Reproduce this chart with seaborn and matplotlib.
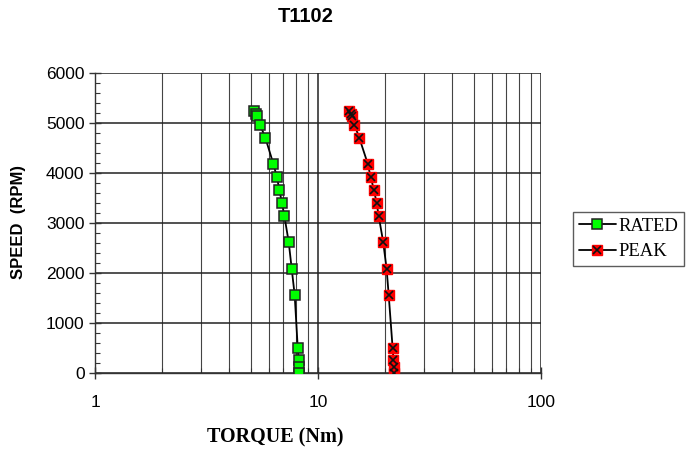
import seaborn as sns
import matplotlib.pyplot as plt
import matplotlib.ticker as mticker
from matplotlib.lines import Line2D
import numpy as np
import pandas as pd

# values
speed = [5240, 5190, 5140, 4970, 4710, 4190, 3930, 3670, 3410, 3150,
         2620, 2090, 1560, 510, 260, 130, 0]
rated_torque = [5.18, 5.27, 5.33, 5.49, 5.80, 6.30, 6.53, 6.71, 6.88, 7.06,
                7.39, 7.62, 7.86, 8.11, 8.19, 8.22, 8.23]
peak_torque = [13.8, 14.0, 14.25, 14.55, 15.3, 16.7, 17.2, 17.8, 18.3, 18.7,
               19.6, 20.3, 20.75, 21.6, 21.8, 21.85, 21.9]

df = pd.DataFrame({"speed": speed, "rated": rated_torque, "peak": peak_torque})

sns.set_style("white")
plt.rcParams['font.family'] = ['Liberation Sans', 'DejaVu Sans']
plt.rcParams.update({"text.color": "black", "axes.labelcolor": "black",
                     "xtick.color": "black", "ytick.color": "black"})

fig = plt.figure(figsize=(6.92, 4.51), dpi=100)
ax = fig.add_axes([95 / 692, 1 - 373 / 451, 446 / 692, 300 / 451])

ms = 6.5
sns.lineplot(data=df, x="rated", y="speed", sort=False, estimator=None, ax=ax,
             color="black", lw=1.3, marker="s", markersize=ms,
             markerfacecolor="#00ff00", markeredgecolor="#222222", markeredgewidth=1.1,
             zorder=3)
sns.lineplot(data=df, x="peak", y="speed", sort=False, estimator=None, ax=ax,
             color="black", lw=1.3, marker="s", markersize=ms,
             markerfacecolor="#ff0000", markeredgecolor="#ff0000", markeredgewidth=1,
             zorder=3)
ax.plot(df["peak"], df["speed"], ls="none", marker="x", markersize=6,
        mec="#111111", mew=1.2, zorder=4)

ax.set_xscale("log")
ax.set_xlim(1, 100)
ax.set_ylim(0, 6000)
ax.set_yticks(np.arange(0, 6001, 1000))
ax.yaxis.set_minor_locator(mticker.MultipleLocator(200))
ax.xaxis.set_major_formatter(mticker.FuncFormatter(lambda v, p: f"{v:g}"))
ax.xaxis.set_minor_formatter(mticker.NullFormatter())

ax.grid(True, which="major", axis="both", color="#222222", lw=1.1)
ax.grid(True, which="minor", axis="x", color="#444444", lw=0.8)
for s in ["top", "right"]:
    ax.spines[s].set_visible(False)
for s in ["left", "bottom"]:
    ax.spines[s].set_color("#333333")
    ax.spines[s].set_linewidth(1.0)

ax.tick_params(axis="both", which="major", direction="inout", length=9, width=1,
               color="#333333", labelsize=12.5, labelcolor="black", left=True, bottom=True)
ax.tick_params(axis="both", which="minor", direction="in", length=3.5, width=0.8,
               color="#333333", left=True, bottom=True)
ax.tick_params(axis="x", which="major", pad=11)
ax.tick_params(axis="y", which="major", pad=3)

ax.set_xlabel("TORQUE (Nm)", fontsize=14.5, fontweight="bold",
              family=["Liberation Serif"], color="black")
ax.xaxis.set_label_coords((275 - 95) / 446, (373 - 437) / 300)
ax.xaxis.label.set_va("center")
ax.set_ylabel("SPEED  (RPM)", fontsize=12, fontweight="bold", color="black")
ax.yaxis.set_label_coords((19 - 95) / 446, (373 - 222) / 300)
ax.yaxis.label.set_va("center")
fig.text(306 / 692, 1 - 16 / 451, "T1102", ha="center", va="center",
         fontsize=14.5, fontweight="bold", color="black")

h_rated = Line2D([], [], color="black", lw=1.3, marker="s", markersize=ms,
                 markerfacecolor="#00ff00", markeredgecolor="#222222", markeredgewidth=1.1)
h_peak_sq = Line2D([], [], color="black", lw=1.3, marker="s", markersize=ms,
                   markerfacecolor="#ff0000", markeredgecolor="#ff0000")
h_peak_x = Line2D([], [], ls="none", marker="x", markersize=6, mec="#111111", mew=1.2)
leg = fig.legend([h_rated, (h_peak_sq, h_peak_x)], ["RATED", "PEAK"],
                 loc="upper left", bbox_to_anchor=(573 / 692, 1 - 212 / 451),
                 frameon=True, fancybox=False, edgecolor="#333333",
                 prop={"family": "Liberation Serif", "size": 13.4},
                 handlelength=2.0, handletextpad=0.15, borderpad=0.3,
                 labelspacing=0.45, borderaxespad=0)
leg.get_frame().set_linewidth(1.0)
for t in leg.get_texts():
    t.set_color("black")

fig.savefig("out.png", dpi=100)
